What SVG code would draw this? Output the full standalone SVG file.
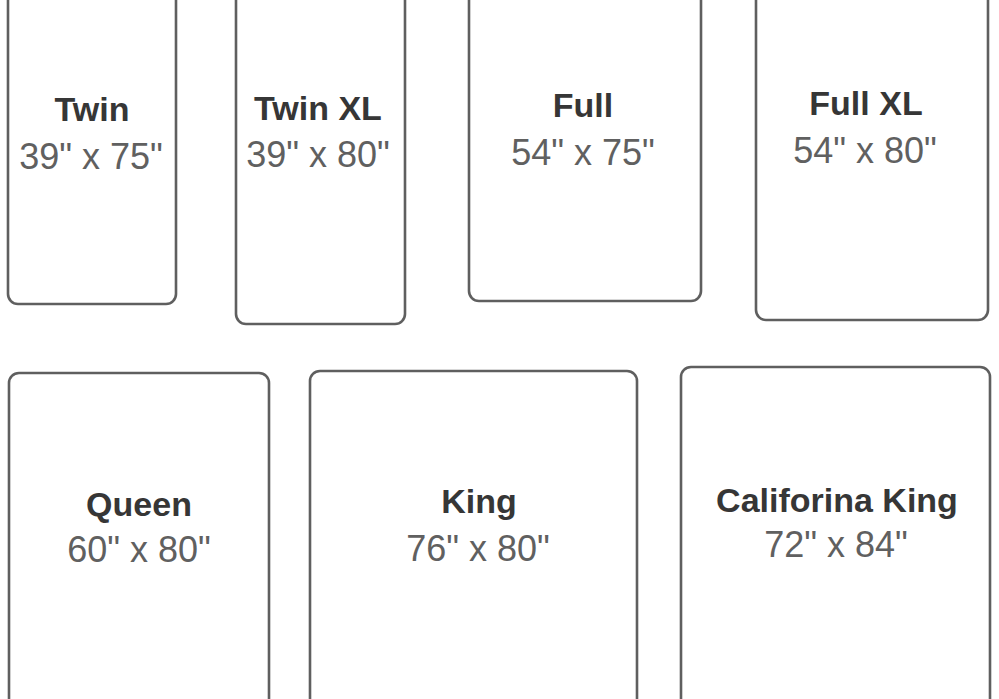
<svg xmlns="http://www.w3.org/2000/svg" width="999" height="699" viewBox="0 0 999 699">
<style>
.bed{fill:#ffffff;stroke:#5f5f5f;stroke-width:2.6}
.t{font-family:"Liberation Sans",Arial,sans-serif;font-weight:bold;font-size:34px;fill:#363636;text-anchor:middle}
.d{font-family:"Liberation Sans",Arial,sans-serif;font-size:36px;fill:#606060;text-anchor:middle}
</style>
<rect width="999" height="699" fill="#ffffff"/>
<g id="twin">
<rect class="bed" x="8" y="-30" width="168" height="334" rx="10"/>
<text class="t" x="92" y="121">Twin</text>
<text class="d" x="91" y="169">39" x 75"</text>
</g>
<g id="twin-xl">
<rect class="bed" x="236" y="-30" width="169" height="354" rx="10"/>
<text class="t" x="318" y="120">Twin XL</text>
<text class="d" x="318" y="167">39" x 80"</text>
</g>
<g id="full">
<rect class="bed" x="469" y="-30" width="232" height="331" rx="10"/>
<text class="t" x="583" y="117">Full</text>
<text class="d" x="583" y="165">54" x 75"</text>
</g>
<g id="full-xl">
<rect class="bed" x="756" y="-30" width="232" height="350" rx="10"/>
<text class="t" x="866" y="115">Full XL</text>
<text class="d" x="865" y="163">54" x 80"</text>
</g>
<g id="queen">
<rect class="bed" x="9" y="373" width="260" height="360" rx="10"/>
<text class="t" x="139" y="516">Queen</text>
<text class="d" x="139" y="562">60" x 80"</text>
</g>
<g id="king">
<rect class="bed" x="310" y="371" width="327" height="360" rx="10"/>
<text class="t" x="479" y="513">King</text>
<text class="d" x="478" y="561">76" x 80"</text>
</g>
<g id="california-king">
<rect class="bed" x="681" y="367" width="309" height="360" rx="10"/>
<text class="t" x="837" y="512">Califorina King</text>
<text class="d" x="836" y="557">72" x 84"</text>
</g>
<g id="connectors"></g>
</svg>
